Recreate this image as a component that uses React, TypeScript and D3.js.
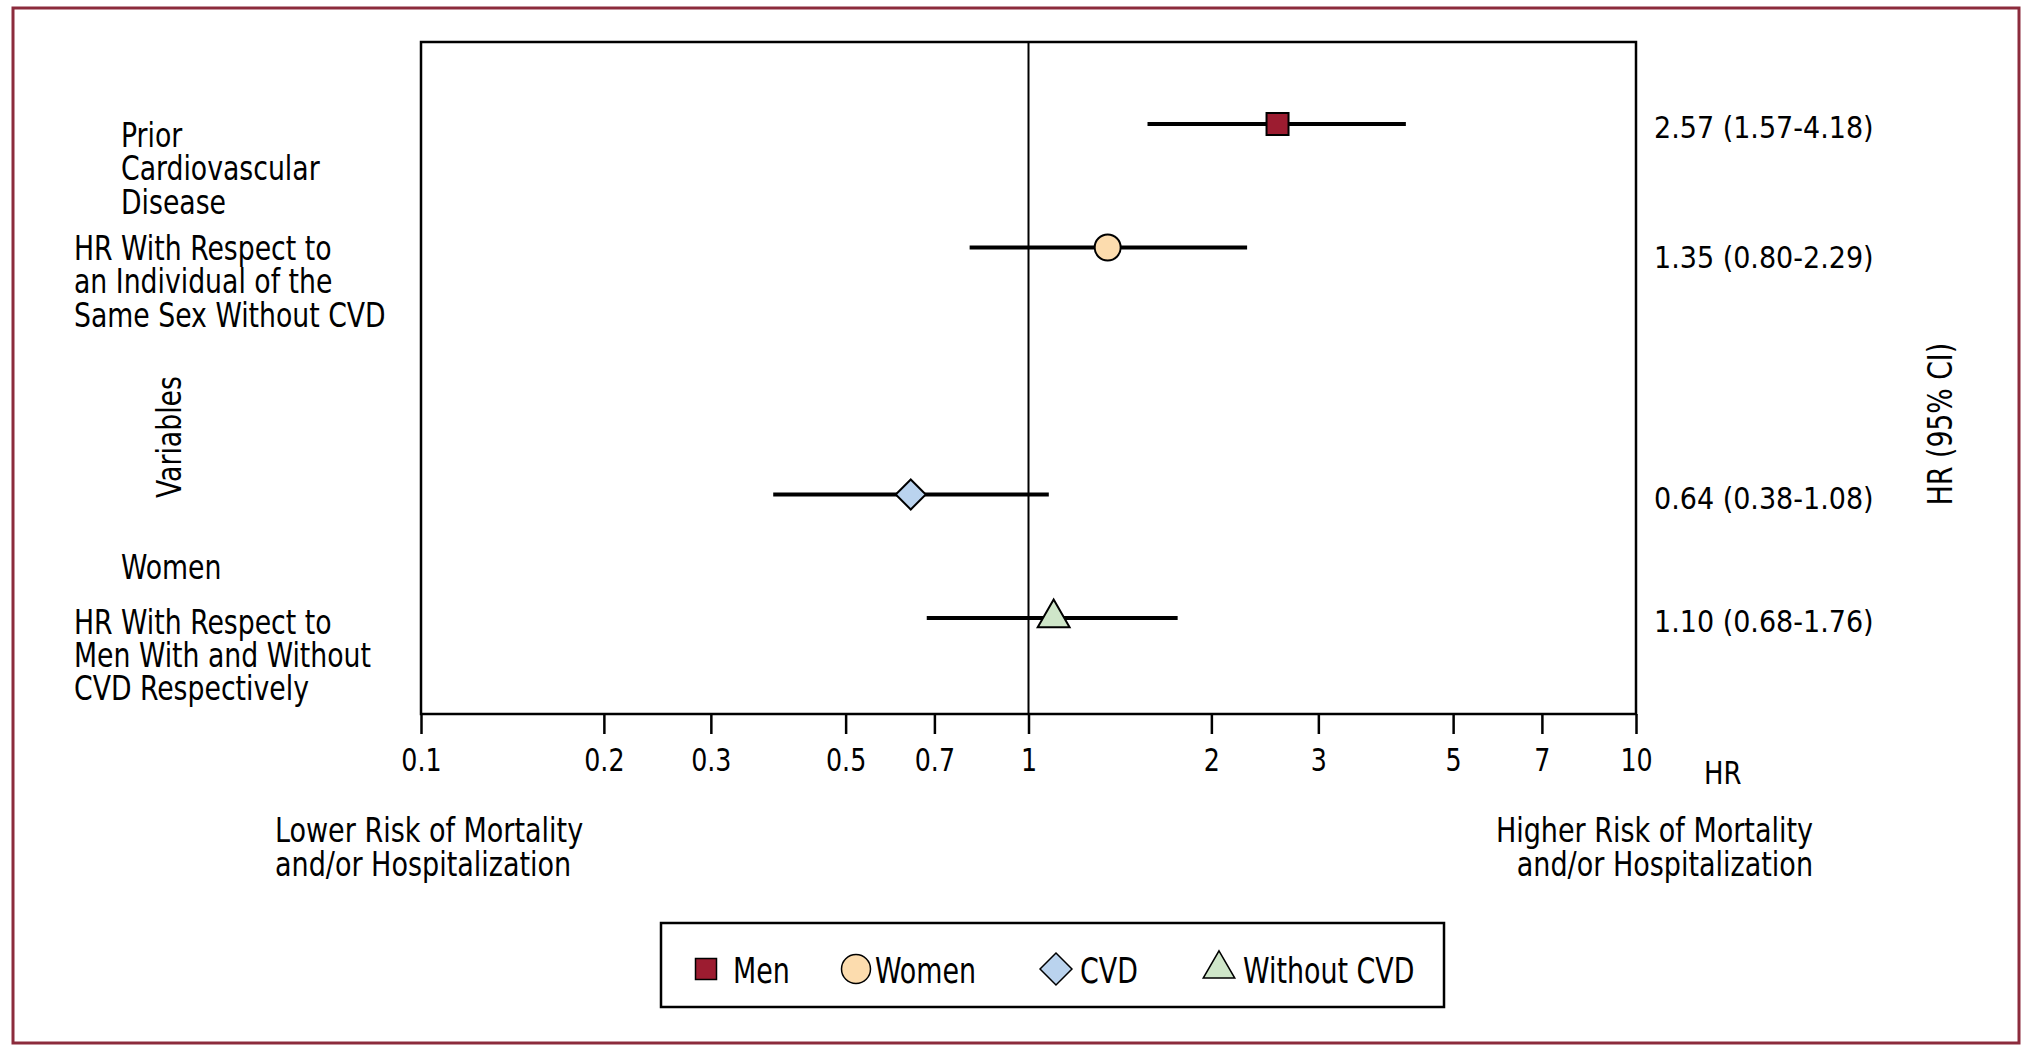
import * as d3 from 'd3';
import React, { useEffect, useRef } from 'react';

// forest plot: HR (95% CI) of mortality and/or hospitalization

const seriesNames = ['Men', 'Women', 'CVD', 'Without CVD'];
const hrValues = [2.57, 1.35, 0.64, 1.1];
const ciLow = [1.57, 0.8, 0.38, 0.68];
const ciHigh = [4.18, 2.29, 1.08, 1.76];
// row order top to bottom, 'gap' is an empty slot between the two groups
const rowSlots = ['Men', 'Women', 'gap', 'CVD', 'Without CVD'];
const tickValues = [0.1, 0.2, 0.3, 0.5, 0.7, 1, 2, 3, 5, 7, 10];

const colors = ['#9c1c30', '#fcdcae', '#bad3ee', '#cfe6c9'];
// no condensed Helvetica here, so squeeze the text horizontally a bit
const FONT = "'DejaVu Sans Condensed', 'Liberation Sans', Arial, sans-serif";

export default () => {
    const ref = useRef<any>();

    function draw(): void {
        const data = seriesNames.map((name, i) => ({
            name,
            hr: hrValues[i],
            lo: ciLow[i],
            hi: ciHigh[i],
            color: colors[i],
        }));

        const dimensions: any = {
            width: 2033,
            height: 1058,
            margin: { top: 42, right: 397, bottom: 344, left: 421 },
        };
        dimensions.boundedWidth = dimensions.width - dimensions.margin.left - dimensions.margin.right;
        dimensions.boundedHeight = dimensions.height - dimensions.margin.top - dimensions.margin.bottom;

        const svg = d3.select<any, any>(ref.current);
        svg.selectAll('*').remove();
        svg.attr('width', dimensions.width).attr('height', dimensions.height);

        // outer frame
        svg.append('rect')
            .attr('x', 13).attr('y', 8)
            .attr('width', 2006).attr('height', 1035)
            .attr('fill', 'none')
            .attr('stroke', '#8c2b3c')
            .attr('stroke-width', 3);

        const stage = svg.append('g')
            .attr('transform', `translate(${dimensions.margin.left}, ${dimensions.margin.top})`);

        const xScale = d3.scaleLog().domain([0.1, 10]).range([0, dimensions.boundedWidth]);
        const yScale = d3.scalePoint<string>().domain(rowSlots).range([82, dimensions.boundedHeight - 96]);

        const symbols = [d3.symbolSquare, d3.symbolCircle, d3.symbolDiamond2, d3.symbolTriangle];
        const plotSizes = [484, 530, 575, 440];
        const legendSizes = [441, 660, 650, 430];

        // axis
        const xAxis = d3.axisBottom(xScale)
            .tickValues(tickValues)
            .tickFormat((d: any) => String(d))
            .tickSize(20)
            .tickSizeOuter(0)
            .tickPadding(14);
        const axisG = stage.append('g')
            .attr('transform', `translate(0, ${dimensions.boundedHeight})`)
            .call(xAxis);
        axisG.select('.domain').remove();
        axisG.selectAll('line').attr('stroke', '#000').attr('stroke-width', 2.5);
        axisG.selectAll('text')
            .attr('fill', '#000')
            .attr('transform', 'scale(0.88, 1)')
            .style('font-family', FONT)
            .style('font-size', '32px');

        // plot box
        stage.append('rect')
            .attr('width', dimensions.boundedWidth)
            .attr('height', dimensions.boundedHeight)
            .attr('fill', 'none')
            .attr('stroke', '#000')
            .attr('stroke-width', 2.5);

        // reference line at HR = 1
        stage.append('line')
            .attr('x1', xScale(1)).attr('x2', xScale(1))
            .attr('y1', 0).attr('y2', dimensions.boundedHeight)
            .attr('stroke', '#000')
            .attr('stroke-width', 2);

        const rows = stage.append('g').attr('class', 'data')
            .selectAll('.row').data(data).join('g')
            .attr('class', 'row')
            .attr('transform', (d: any) => `translate(0, ${yScale(d.name)})`);

        rows.append('line')
            .attr('x1', (d: any) => xScale(d.lo))
            .attr('x2', (d: any) => xScale(d.hi))
            .attr('stroke', '#000')
            .attr('stroke-width', 4);

        rows.append('path')
            .attr('transform', (d: any) => `translate(${xScale(d.hr)}, 0)`)
            .attr('d', (d: any, i: number) => d3.symbol().type(symbols[i]).size(plotSizes[i])() as any)
            .attr('fill', (d: any) => d.color)
            .attr('stroke', '#000')
            .attr('stroke-width', 2);

        rows.append('text')
            .attr('x', dimensions.boundedWidth + 18)
            .attr('y', (d: any, i: number) => (i === 1 ? 20 : 14))
            .attr('fill', '#000')
            .style('font-family', FONT)
            .style('font-size', '30px')
            .text((d: any) => `${d.hr.toFixed(2)} (${d.lo.toFixed(2)}-${d.hi.toFixed(2)})`);

        // text helper: lines of text at (x, y), squeezed by sx, optional rotation
        const multiLine = (x: number, y: number, lines: string[], lh: number, size: number,
                           sx = 0.9, anchor = 'start', rotate = 0) => {
            const t = svg.append('g')
                .attr('transform', `translate(${x}, ${y}) rotate(${rotate}) scale(${sx}, 1)`)
                .append('text')
                .attr('fill', '#000')
                .attr('text-anchor', anchor)
                .style('font-family', FONT)
                .style('font-size', `${size}px`);
            lines.forEach((l, i) => {
                t.append('tspan').attr('x', 0).attr('y', i * lh).text(l);
            });
        };

        multiLine(121, 147, ['Prior', 'Cardiovascular', 'Disease'], 33.5, 33);
        multiLine(74, 260, ['HR With Respect to', 'an Individual of the', 'Same Sex Without CVD'], 33.5, 33);
        multiLine(121, 579, ['Women'], 33, 33);
        multiLine(74, 634, ['HR With Respect to', 'Men With and Without', 'CVD Respectively'], 33, 33);

        multiLine(181, 437, ['Variables'], 0, 33, 0.9, 'middle', -90);
        multiLine(1952, 424, ['HR (95% CI)'], 0, 33, 0.9, 'middle', -90);

        multiLine(1704, 784, ['HR'], 0, 32);
        multiLine(275, 842, ['Lower Risk of Mortality', 'and/or Hospitalization'], 34, 33, 0.91);
        multiLine(1813, 842, ['Higher Risk of Mortality', 'and/or Hospitalization'], 34, 33, 0.91, 'end');

        // legend
        const legend = svg.append('g').attr('transform', 'translate(661, 923)');
        legend.append('rect')
            .attr('width', 783).attr('height', 84)
            .attr('fill', 'none')
            .attr('stroke', '#000')
            .attr('stroke-width', 2.5);

        const legendSymbolX = [45, 195, 395, 558];
        const legendTextX = [72, 214, 419, 582];
        const items = legend.selectAll('.item').data(data).join('g').attr('class', 'item');
        items.append('path')
            .attr('transform', (d: any, i: number) => `translate(${legendSymbolX[i]}, 46)`)
            .attr('d', (d: any, i: number) => d3.symbol().type(symbols[i]).size(legendSizes[i])() as any)
            .attr('fill', (d: any) => d.color)
            .attr('stroke', '#000')
            .attr('stroke-width', 1.5);
        items.append('text')
            .attr('transform', (d: any, i: number) => `translate(${legendTextX[i]}, 60) scale(0.83, 1)`)
            .style('font-family', FONT)
            .style('font-size', '36px')
            .text((d: any) => d.name);
    }

    useEffect(() => {
        draw();
    });

    return (
        <svg ref={ref} style={{ position: 'absolute', left: 0, top: 0, background: '#fff' }}></svg>
    );
};
